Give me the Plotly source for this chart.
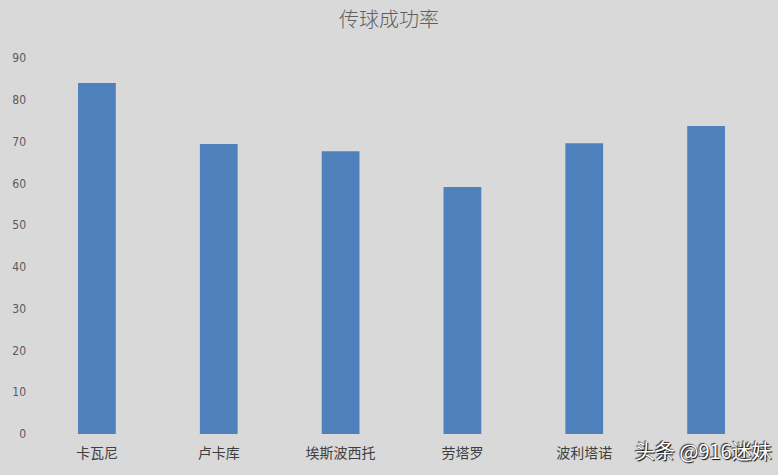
import plotly.graph_objects as go

### DATA
players = ["卡瓦尼", "卢卡库", "埃斯波西托", "劳塔罗", "波利塔诺", "第六名"]
tick_labels = ["卡瓦尼", "卢卡库", "埃斯波西托", "劳塔罗", "波利塔诺", ""]
pass_rate = [84.0, 69.4, 67.7, 59.1, 69.6, 73.7]
y_ticks = [0, 10, 20, 30, 40, 50, 60, 70, 80, 90]

### PLOT
fig = go.Figure()
fig.add_trace(go.Bar(x=players, y=pass_rate, width=0.31,
                     marker=dict(color="#4F81BD", line=dict(width=0))))

fig.update_layout(
    width=778, height=475,
    paper_bgcolor="#D9D9D9", plot_bgcolor="#D9D9D9",
    margin=dict(l=36, r=11, t=58, b=41),
    showlegend=False,
    title=dict(text="传球成功率", x=0.5, xanchor="center", y=0.957, yanchor="middle",
               font=dict(family="Noto Sans CJK SC", size=20, color="#606060", weight=300)),
    font=dict(family="Noto Sans CJK SC", color="#595959"),
)
fig.update_xaxes(tickvals=players, ticktext=tick_labels, showgrid=False, showline=False,
                 ticks="", ticklabelstandoff=9, tickfont=dict(size=14, color="#404040"))
fig.update_yaxes(range=[0, 90], tickvals=y_ticks, showgrid=False, zeroline=False,
                 showline=False, ticks="", ticklabelstandoff=9,
                 tickfont=dict(family="DejaVu Sans Condensed", size=12, color="#595959"))

# watermark
fig.add_annotation(text="头条 @916迷妹", xref="paper", yref="paper", x=1.01, y=-0.045,
                   xanchor="right", yanchor="middle", showarrow=False,
                   font=dict(family="Noto Sans CJK SC", size=20, color="white",
                             shadow="1px 1px 1px #000000, -1px -1px 1px #333333"))

fig.write_html("out.html", config={"displayModeBar": False},
               post_script="document.body.style.margin='0';")
